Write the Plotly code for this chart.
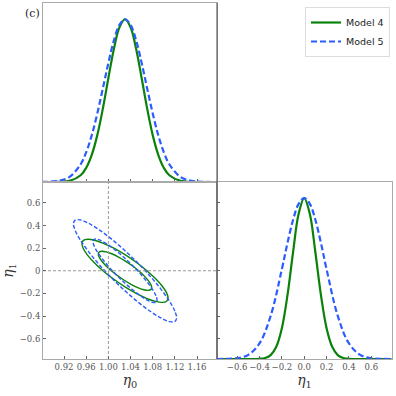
import plotly.graph_objects as go

# marginal of eta0 (peak-normalised)
eta0_m4 = [0.88, 0.91, 0.93, 0.95, 0.96, 0.97, 0.98, 0.99, 1.00, 1.01, 1.02, 1.03,
           1.04, 1.05, 1.06, 1.07, 1.08, 1.09, 1.10, 1.11, 1.13, 1.15, 1.20]
dens0_m4 = [0.0, 0.0008, 0.0069, 0.0414, 0.0873, 0.167, 0.288, 0.451, 0.639, 0.819, 0.951, 1.0,
            0.951, 0.819, 0.639, 0.451, 0.288, 0.167, 0.0873, 0.0414, 0.0069, 0.0008, 0.0]
eta0_m5 = [0.88, 0.89, 0.91, 0.93, 0.95, 0.96, 0.97, 0.98, 0.99, 1.00, 1.01, 1.02, 1.03,
           1.04, 1.05, 1.06, 1.07, 1.08, 1.09, 1.10, 1.11, 1.13, 1.15, 1.17, 1.20]
dens0_m5 = [0.0004, 0.0011, 0.0068, 0.0313, 0.109, 0.183, 0.287, 0.421, 0.575, 0.732, 0.871, 0.966, 1.0,
            0.966, 0.871, 0.732, 0.575, 0.421, 0.287, 0.183, 0.109, 0.0313, 0.0068, 0.0011, 0.0002]

# marginal of eta1 (peak-normalised)
eta1_m4 = [-0.78, -0.5, -0.4, -0.35, -0.3, -0.25, -0.2, -0.15, -0.1, -0.05, 0.0,
           0.05, 0.1, 0.15, 0.2, 0.25, 0.3, 0.35, 0.4, 0.5, 0.78]
dens1_m4 = [0.0, 0.0, 0.0013, 0.0063, 0.0243, 0.0756, 0.191, 0.395, 0.662, 0.902, 1.0,
            0.902, 0.662, 0.395, 0.191, 0.0756, 0.0243, 0.0063, 0.0013, 0.0, 0.0]
eta1_m5 = [-0.78, -0.7, -0.6, -0.5, -0.4, -0.3, -0.2, -0.15, -0.1, -0.05, 0.0,
           0.05, 0.1, 0.15, 0.2, 0.3, 0.4, 0.5, 0.6, 0.7, 0.78]
dens1_m5 = [0.0001, 0.0008, 0.0052, 0.0259, 0.0966, 0.268, 0.558, 0.720, 0.864, 0.964, 1.0,
            0.964, 0.864, 0.720, 0.558, 0.268, 0.0966, 0.0259, 0.0052, 0.0008, 0.0001]

# 2D contours (68% and 95%)
m4_outer_x = [1.1077, 1.1051, 1.0973, 1.0849, 1.0689, 1.0501, 1.030, 1.0099, 0.9911, 0.9751, 0.9627, 0.9549,
              0.9523, 0.9549, 0.9627, 0.9751, 0.9911, 1.0099, 1.030, 1.0501, 1.0689, 1.0849, 1.0973, 1.1051]
m4_outer_y = [-0.240, -0.195, -0.1367, -0.069, 0.0033, 0.0753, 0.1423, 0.1996, 0.2432, 0.2702, 0.2789, 0.2687,
              0.240, 0.195, 0.1367, 0.069, -0.0033, -0.0753, -0.1423, -0.1996, -0.2432, -0.2702, -0.2789, -0.2687]
m4_inner_x = [1.0782, 1.0766, 1.0717, 1.0641, 1.0541, 1.0425, 1.030, 1.0175, 1.0059, 0.9959, 0.9883, 0.9834,
              0.9818, 0.9834, 0.9883, 0.9959, 1.0059, 1.0175, 1.030, 1.0425, 1.0541, 1.0641, 1.0717, 1.0766]
m4_inner_y = [-0.1488, -0.1209, -0.0847, -0.0428, 0.0020, 0.0467, 0.0882, 0.1238, 0.1508, 0.1676, 0.1730, 0.1666,
              0.1488, 0.1209, 0.0847, 0.0428, -0.0020, -0.0467, -0.0882, -0.1238, -0.1508, -0.1676, -0.1730, -0.1666]
m5_outer_x = [1.1231, 1.1199, 1.1106, 1.0958, 1.0766, 1.0541, 1.030, 1.0059, 0.9834, 0.9642, 0.9494, 0.9401,
              0.9369, 0.9401, 0.9494, 0.9642, 0.9834, 1.0059, 1.030, 1.0541, 1.0766, 1.0958, 1.1106, 1.1199]
m5_outer_y = [-0.4168, -0.3566, -0.2721, -0.1691, -0.0546, 0.0636, 0.1776, 0.2795, 0.3622, 0.4202, 0.4497, 0.4486,
              0.4168, 0.3566, 0.2721, 0.1691, 0.0546, -0.0636, -0.1776, -0.2795, -0.3622, -0.4202, -0.4497, -0.4486]
m5_inner_x = [1.0878, 1.0858, 1.0801, 1.0709, 1.0589, 1.0450, 1.030, 1.0150, 1.0011, 0.9891, 0.9799, 0.9742,
              0.9722, 0.9742, 0.9799, 0.9891, 1.0011, 1.0150, 1.030, 1.0450, 1.0589, 1.0709, 1.0801, 1.0858]
m5_inner_y = [-0.2585, -0.2212, -0.1688, -0.1049, -0.0339, 0.0395, 0.1102, 0.1734, 0.2247, 0.2606, 0.2789, 0.2782,
              0.2585, 0.2212, 0.1688, 0.1049, 0.0339, -0.0395, -0.1102, -0.1734, -0.2247, -0.2606, -0.2789, -0.2782]

# reference (true) values shown as dashed lines
truth_eta0 = 1.00
truth_eta1 = 0.0

eta0_ticks = [0.92, 0.96, 1.00, 1.04, 1.08, 1.12, 1.16]
eta0_labels = ["0.92", "0.96", "1.00", "1.04", "1.08", "1.12", "1.16"]
eta1_ticks = [-0.6, -0.4, -0.2, 0.0, 0.2, 0.4, 0.6]
eta1_labels_left = ["\u22120.6", "\u22120.4", "\u22120.2", "0", "0.2", "0.4", "0.6"]
eta1_labels_bottom = ["\u22120.6", "\u22120.4", "\u22120.2", "0.0", "0.2", "0.4", "0.6"]

eta0_range = [0.882, 1.196]
eta1_range = [-0.78, 0.785]
dens_range = [0, 1.1]

# the diagonal panel's y ticks sit level with the eta1 ticks of the left panel
dens_ticks = [(t - eta1_range[0]) / (eta1_range[1] - eta1_range[0]) * dens_range[1] for t in eta1_ticks]

GREEN = "#0a820a"
BLUE = "#2a5cff"
GRID = "#aaaaaa"
SERIF = "DejaVu Serif"

def close(a):
    return a + a[:1]

fig = go.Figure()

# top-left: eta0 marginal
fig.add_trace(go.Scatter(x=eta0_m4, y=dens0_m4, mode="lines", line=dict(color=GREEN, width=2.2, shape="spline"),
                         name="Model 4", legendgroup="m4", xaxis="x", yaxis="y"))
fig.add_trace(go.Scatter(x=eta0_m5, y=dens0_m5, mode="lines", line=dict(color=BLUE, width=2.2, dash="6px,3px", shape="spline"),
                         name="Model 5", legendgroup="m5", xaxis="x", yaxis="y"))

# bottom-left: contours
for xs, ys, col, dash in [(m4_outer_x, m4_outer_y, GREEN, "solid"), (m4_inner_x, m4_inner_y, GREEN, "solid"),
                          (m5_outer_x, m5_outer_y, BLUE, "4px,2px"), (m5_inner_x, m5_inner_y, BLUE, "4px,2px")]:
    fig.add_trace(go.Scatter(x=close(xs), y=close(ys), mode="lines",
                             line=dict(color=col, width=1.4, dash=dash, shape="spline", smoothing=1.0),
                             showlegend=False, xaxis="x2", yaxis="y2"))
fig.add_trace(go.Scatter(x=[truth_eta0, truth_eta0], y=eta1_range, mode="lines",
                         line=dict(color="#999999", width=1, dash="3px,2px"), showlegend=False, xaxis="x2", yaxis="y2"))
fig.add_trace(go.Scatter(x=eta0_range, y=[truth_eta1, truth_eta1], mode="lines",
                         line=dict(color="#999999", width=1, dash="3px,2px"), showlegend=False, xaxis="x2", yaxis="y2"))

# bottom-right: eta1 marginal
fig.add_trace(go.Scatter(x=eta1_m4, y=dens1_m4, mode="lines", line=dict(color=GREEN, width=2.2, shape="spline"),
                         showlegend=False, xaxis="x3", yaxis="y3"))
fig.add_trace(go.Scatter(x=eta1_m5, y=dens1_m5, mode="lines", line=dict(color=BLUE, width=2.2, dash="6px,3px", shape="spline"),
                         showlegend=False, xaxis="x3", yaxis="y3"))

W = 396.0
left_col = [43 / W, 217 / W]
right_col = [217 / W, 392 / W]
top_row = [1 - 182 / W, 1 - 3 / W]
bot_row = [1 - 359 / W, 1 - 182 / W]

tickfont = dict(family=SERIF, size=8.5, color="#555555")
titlefont = dict(family=SERIF, size=14, color="#333333")
frame = dict(showline=True, linecolor=GRID, linewidth=1, mirror=True, showgrid=False, zeroline=False)

fig.update_layout(
    width=396, height=396,
    margin=dict(l=0, r=0, t=0, b=0),
    paper_bgcolor="white", plot_bgcolor="white",
    xaxis=dict(domain=left_col, anchor="y", range=eta0_range, tickvals=eta0_ticks, showticklabels=False,
               ticks="inside", ticklen=3, tickcolor="#666666", **frame),
    yaxis=dict(domain=top_row, anchor="x", range=dens_range, showticklabels=False, ticks="", **frame),
    xaxis2=dict(domain=left_col, anchor="y2", range=eta0_range, tickvals=eta0_ticks, ticktext=eta0_labels,
                ticks="inside", ticklen=3, tickcolor="#666666", tickfont=tickfont, tickangle=0,
                title=dict(text="<i>η</i><sub>0</sub>", font=titlefont, standoff=2), **frame),
    yaxis2=dict(domain=bot_row, anchor="x2", range=eta1_range, tickvals=eta1_ticks, ticktext=eta1_labels_left,
                ticks="inside", ticklen=3, tickcolor="#666666", tickfont=tickfont,
                title=dict(text="<i>η</i><sub>1</sub>", font=titlefont, standoff=4), **frame),
    xaxis3=dict(domain=right_col, anchor="y3", range=eta1_range, tickvals=eta1_ticks, ticktext=eta1_labels_bottom,
                ticks="inside", ticklen=3, tickcolor="#666666", tickfont=tickfont, tickangle=0,
                title=dict(text="<i>η</i><sub>1</sub>", font=titlefont, standoff=2), **frame),
    yaxis3=dict(domain=bot_row, anchor="x3", range=dens_range, tickvals=dens_ticks, showticklabels=False,
                ticks="inside", ticklen=3, tickcolor="#666666", **frame),
    legend=dict(x=305 / W, y=1 - 7 / W, xanchor="left", yanchor="top", bgcolor="white",
                bordercolor="#dddddd", borderwidth=1, font=dict(family="DejaVu Sans", size=9.5, color="#222222"),
                itemwidth=30, tracegroupgap=0),
    shapes=[dict(type="line", xref="paper", yref="paper", x0=217 / W, x1=217 / W, y0=bot_row[0], y1=top_row[1],
                 line=dict(color="#444444", width=1))],
    annotations=[dict(text="(c)", xref="paper", yref="paper", x=32 / W, y=1 - 13 / W, xanchor="center", yanchor="middle",
                      showarrow=False, font=dict(family=SERIF, size=11, color="#222222"))],
)

# page body has a default margin that would push the figure off the window
fig.write_html("out.html", config={"displayModeBar": False},
               post_script="document.body.style.margin='0';")
